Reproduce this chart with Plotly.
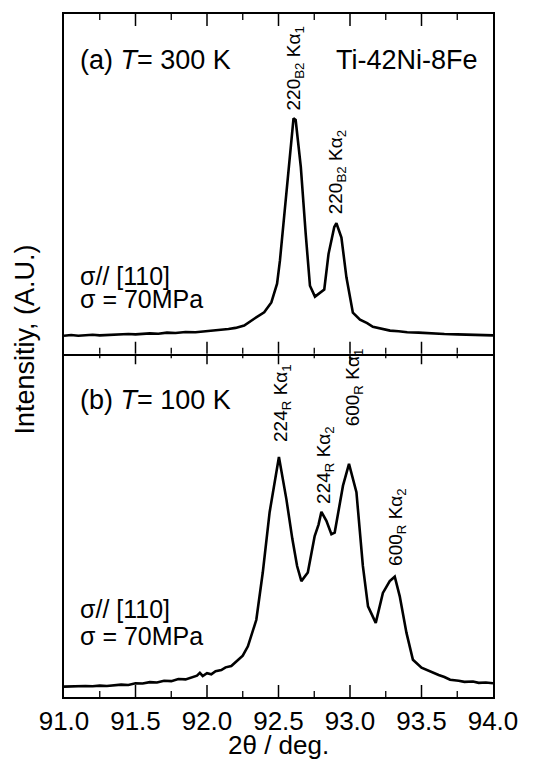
import numpy as np
import plotly.graph_objects as go

# ---- data ----
two_theta_a = [91.00, 91.05, 91.10, 91.15, 91.20, 91.25, 91.30, 91.35, 91.40, 91.45, 91.50, 91.55,
               91.60, 91.66, 91.72, 91.78, 91.85, 91.92, 92.00, 92.05, 92.10, 92.15, 92.20,
               92.26, 92.33, 92.40, 92.45, 92.49, 92.51, 92.545, 92.58, 92.605, 92.62, 92.656,
               92.69, 92.72, 92.755, 92.79, 92.82, 92.85, 92.89, 92.905, 92.94, 92.975, 93.02,
               93.07, 93.12, 93.16, 93.20, 93.28, 93.34, 93.40, 93.48, 93.58, 93.66, 93.75,
               93.82, 93.90, 93.96, 94.00]
intensity_a = [0.053, 0.055, 0.053, 0.054, 0.056, 0.054, 0.055, 0.057, 0.056, 0.058, 0.057, 0.059,
               0.060, 0.059, 0.062, 0.061, 0.064, 0.063, 0.066, 0.068, 0.069, 0.073, 0.076,
               0.083, 0.103, 0.122, 0.151, 0.206, 0.274, 0.430, 0.599, 0.693, 0.688, 0.550,
               0.354, 0.200, 0.168, 0.178, 0.189, 0.294, 0.373, 0.384, 0.342, 0.225, 0.121,
               0.100, 0.090, 0.079, 0.075, 0.068, 0.066, 0.063, 0.062, 0.059, 0.058, 0.057,
               0.056, 0.055, 0.056, 0.054]

two_theta_b = [91.00, 91.05, 91.10, 91.15, 91.20, 91.25, 91.30, 91.35, 91.40, 91.45, 91.50, 91.55,
               91.60, 91.65, 91.70, 91.75, 91.80, 91.85, 91.90, 91.93, 91.95, 91.97, 92.00,
               92.03, 92.06, 92.10, 92.13, 92.17, 92.205, 92.25, 92.286, 92.345, 92.39, 92.438,
               92.503, 92.555, 92.597, 92.63, 92.66, 92.705, 92.753, 92.78, 92.80, 92.835, 92.87,
               92.893, 92.951, 92.993, 93.045, 93.09, 93.126, 93.18, 93.23, 93.278, 93.313,
               93.348, 93.395, 93.44, 93.50, 93.557, 93.62, 93.66, 93.70, 93.76, 93.80, 93.86,
               93.90, 93.95, 94.00]
intensity_b = [0.030, 0.031, 0.030, 0.032, 0.031, 0.033, 0.032, 0.034, 0.036, 0.035, 0.040, 0.039,
               0.043, 0.042, 0.047, 0.046, 0.052, 0.051, 0.058, 0.062, 0.070, 0.061, 0.069,
               0.066, 0.075, 0.078, 0.086, 0.090, 0.103, 0.120, 0.147, 0.224, 0.361, 0.536,
               0.696, 0.574, 0.458, 0.380, 0.336, 0.361, 0.467, 0.500, 0.537, 0.511, 0.472,
               0.477, 0.613, 0.676, 0.594, 0.380, 0.263, 0.215, 0.302, 0.336, 0.349,
               0.292, 0.186, 0.108, 0.085, 0.074, 0.064, 0.058, 0.050, 0.047, 0.044, 0.045,
               0.041, 0.042, 0.040]

x_range = [91.0, 94.0]
x_tick0 = 91.0
x_tick_step = 0.5
x_minor_step = 0.25

peaks_a = [(92.615, 0.71, "220<sub>B2</sub> Kα<sub>1</sub>"),
           (92.91, 0.405, "220<sub>B2</sub> Kα<sub>2</sub>")]
peaks_b = [(92.52, 0.735, "224<sub>R</sub> Kα<sub>1</sub>"),
           (92.82, 0.555, "224<sub>R</sub> Kα<sub>2</sub>"),
           (93.03, 0.78, "600<sub>R</sub> Kα<sub>1</sub>"),
           (93.33, 0.375, "600<sub>R</sub> Kα<sub>2</sub>")]

FONT = "Liberation Sans, Arial, sans-serif"
Y_RANGE = [0, 1]
PLOT_H = 683  # plot-area height in px (759 - 6 - 70)
split = 0.5037
ov = 0.0011

fig = go.Figure()
fig.add_trace(go.Scatter(x=two_theta_a, y=intensity_a, mode="lines",
                         line=dict(color="black", width=2.6), xaxis="x2", yaxis="y2",
                         showlegend=False, hoverinfo="skip"))
fig.add_trace(go.Scatter(x=two_theta_b, y=intensity_b, mode="lines",
                         line=dict(color="black", width=2.6), xaxis="x", yaxis="y",
                         showlegend=False, hoverinfo="skip"))

# inside tick marks drawn as short line segments on each panel's own x/y scales
major_vals = np.arange(x_tick0 + x_tick_step, x_range[1] - 1e-9, x_tick_step)
all_minor = np.arange(x_tick0 + x_minor_step, x_range[1] - 1e-9, x_minor_step)
minor_vals = [v for v in all_minor
              if abs((v - x_tick0) / x_tick_step - round((v - x_tick0) / x_tick_step)) > 1e-6]
panel_px = {"y": (split + ov) * PLOT_H, "y2": (1 - split + ov) * PLOT_H}
for xa, ya in (("x", "y"), ("x2", "y2")):
    for vals, length, w in ((list(major_vals), 12, 1.5), (minor_vals, 6, 1.3)):
        dy = length / panel_px[ya] * (Y_RANGE[1] - Y_RANGE[0])
        xs, ys = [], []
        for v in vals:
            xs += [float(v), float(v), None, float(v), float(v), None]
            ys += [Y_RANGE[0], Y_RANGE[0] + dy, None, Y_RANGE[1], Y_RANGE[1] - dy, None]
        fig.add_trace(go.Scatter(x=xs, y=ys, mode="lines", xaxis=xa, yaxis=ya,
                                 line=dict(color="black", width=w), connectgaps=False,
                                 showlegend=False, hoverinfo="skip"))

common_x = dict(range=x_range, tickmode="linear", tick0=x_tick0, dtick=x_tick_step,
                ticks="", showline=True, linecolor="black", linewidth=1.5, mirror=True,
                showgrid=False, zeroline=False, automargin=False)
common_y = dict(range=Y_RANGE, showticklabels=False, ticks="", showline=True, linecolor="black",
                linewidth=1.5, mirror=True, showgrid=False, zeroline=False, fixedrange=True,
                automargin=False)

fig.update_layout(
    template="simple_white",
    width=530, height=759,
    margin=dict(l=56, r=45, t=6, b=70),
    paper_bgcolor="white", plot_bgcolor="white",
    font=dict(family=FONT, color="black"),
    xaxis=dict(**common_x, anchor="y", showticklabels=True, tickformat=".1f",
               tickfont=dict(size=26, family=FONT)),
    yaxis=dict(**common_y, domain=[0, split + ov]),
    xaxis2=dict(**common_x, anchor="y2", matches="x", showticklabels=False),
    yaxis2=dict(**common_y, domain=[split - ov, 1]),
)

ann = []
ann.append(dict(text="(a) <i>T</i>= 300 K", xref="x2", yref="y2", x=91.10, y=0.865,
                xanchor="left", yanchor="middle", showarrow=False, font=dict(size=27)))
ann.append(dict(text="Ti-42Ni-8Fe", xref="x2", yref="y2", x=93.91, y=0.865,
                xanchor="right", yanchor="middle", showarrow=False, font=dict(size=27)))
ann.append(dict(text="σ// [110]", xref="x2", yref="y2", x=91.10, y=0.228,
                xanchor="left", yanchor="middle", showarrow=False, font=dict(size=25)))
ann.append(dict(text="σ = 70MPa", xref="x2", yref="y2", x=91.10, y=0.160,
                xanchor="left", yanchor="middle", showarrow=False, font=dict(size=25)))
ann.append(dict(text="(b) <i>T</i>= 100 K", xref="x", yref="y", x=91.10, y=0.86,
                xanchor="left", yanchor="middle", showarrow=False, font=dict(size=27)))
ann.append(dict(text="σ// [110]", xref="x", yref="y", x=91.10, y=0.256,
                xanchor="left", yanchor="middle", showarrow=False, font=dict(size=25)))
ann.append(dict(text="σ = 70MPa", xref="x", yref="y", x=91.10, y=0.178,
                xanchor="left", yanchor="middle", showarrow=False, font=dict(size=25)))
for xv, yv, t in peaks_a:
    ann.append(dict(text=t, xref="x2", yref="y2", x=xv, y=yv, textangle=-90,
                    xanchor="center", yanchor="bottom", showarrow=False, font=dict(size=19)))
for xv, yv, t in peaks_b:
    ann.append(dict(text=t, xref="x", yref="y", x=xv, y=yv, textangle=-90,
                    xanchor="center", yanchor="bottom", showarrow=False, font=dict(size=19)))
ann.append(dict(text="Intensitiy, (A.U.)", xref="paper", yref="paper", x=-0.092,
                y=(697 - 340) / 683, textangle=-90, xanchor="center", yanchor="middle",
                showarrow=False, font=dict(size=27)))
ann.append(dict(text="2θ / deg.", xref="paper", yref="paper", x=0.5, y=-(745 - 697) / 683,
                xanchor="center", yanchor="middle", showarrow=False, font=dict(size=26)))
fig.update_layout(annotations=ann)

fig.write_html("out.html")
